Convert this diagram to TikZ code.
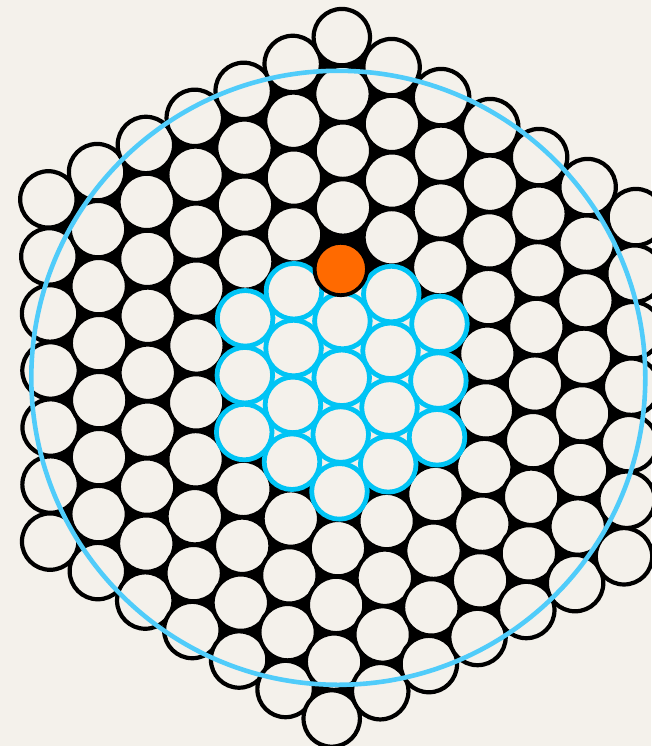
\documentclass[tikz,border=0pt]{standalone}
\definecolor{bg}{RGB}{244,241,235}
\definecolor{cyanB}{RGB}{0,196,245}
\definecolor{bigB}{RGB}{80,204,250}
\definecolor{orangeC}{RGB}{255,106,0}
\newcommand\lattice[3]{%
  \pgfmathsetmacro\hxX{341.7-0.84*(#3)-0.1375*(#3)*(#3)+(#2)*(48.39-0.19*(#3))-0.024*(#2)*(#2)}%
  \pgfmathsetmacro\hxY{377.8+56.78*(#3)+1.35*(#2)+0.022*(#2)*(#2)-0.042*(#2)*(#3)}%
  \coordinate (#1) at (\hxX,\hxY);}
\begin{document}
\begin{tikzpicture}[x=1pt,y=-1pt,
  blackcirc/.style={draw=black,line width=4.2pt,fill=bg},
  bluecirc/.style={draw=cyanB,line width=4.8pt,fill=bg},
  orangecirc/.style={draw=black,line width=3.8pt,fill=orangeC},
  bigcirc/.style={draw=bigB,line width=4.6pt}]
\fill[bg] (0,0) rectangle (651,746);
\useasboundingbox (0,0) rectangle (651,746);
% black underlay of the whole hexagon
\lattice{c1}{0}{-6}\lattice{c2}{6}{-3}\lattice{c3}{6}{3}
\lattice{c4}{0}{6}\lattice{c5}{-6}{3}\lattice{c6}{-6}{-3}
\fill[black] (c1)--(c2)--(c3)--(c4)--(c5)--(c6)--cycle;
% black circles
\foreach \uu in {-6,...,6}{
  \pgfmathtruncatemacro\nn{12-abs(\uu)}
  \foreach \jj in {0,...,\nn}{
    \pgfmathsetmacro\vv{\jj-\nn/2}
    \pgfmathtruncatemacro\isblue{and(abs(\uu)<=2, abs(\vv)<=2-abs(\uu)/2+0.01)}
    \ifnum\isblue=0
      \lattice{tmp}{\uu}{\vv}
      \draw[blackcirc] (tmp) circle[radius=28.2];
    \fi
  }
}
% cream underlay of the blue cluster
\lattice{b1}{0}{-2}\lattice{b2}{2}{-1}\lattice{b3}{2}{1}
\lattice{b4}{0}{2}\lattice{b5}{-2}{1}\lattice{b6}{-2}{-1}
\fill[bg] (b1)--(b2)--(b3)--(b4)--(b5)--(b6)--cycle;
% blue circles
\foreach \uu in {-2,...,2}{
  \pgfmathtruncatemacro\nn{4-abs(\uu)}
  \foreach \jj in {0,...,\nn}{
    \pgfmathsetmacro\vv{\jj-\nn/2}
    \pgfmathtruncatemacro\isorange{and(\uu==0, \jj==0)}
    \ifnum\isorange=0
      \lattice{tmp}{\uu}{\vv}
      \draw[bluecirc] (tmp) circle[radius=27.8];
    \fi
  }
}
% orange circle
\coordinate (orange) at (340.8,269);
\draw[orangecirc] (orange) circle[radius=26.2];
% big enclosing circle
\coordinate (bigc) at (338.3,377.8);
\draw[bigcirc] (bigc) circle[radius=307];
\end{tikzpicture}
\end{document}
